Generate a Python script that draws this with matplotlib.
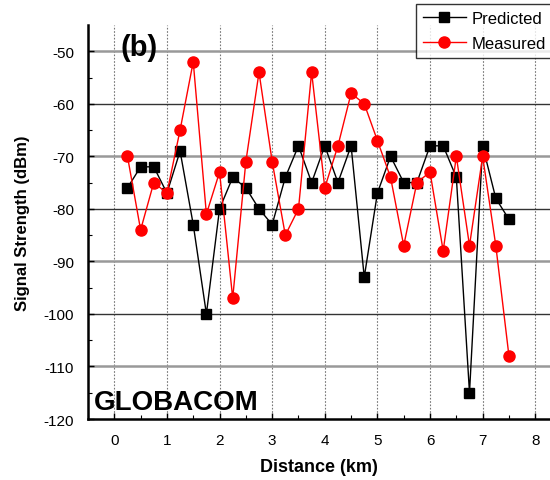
import matplotlib
matplotlib.use("Agg")
import matplotlib.pyplot as plt
import numpy as np

distance = [0.25, 0.5, 0.75, 1.0, 1.25, 1.5, 1.75, 2.0, 2.25, 2.5, 2.75, 3.0, 3.25, 3.5, 3.75,
            4.0, 4.25, 4.5, 4.75, 5.0, 5.25, 5.5, 5.75, 6.0, 6.25, 6.5, 6.75, 7.0, 7.25, 7.5]
predicted = [-76, -72, -72, -77, -69, -83, -100, -80, -74, -76, -80, -83, -74, -68, -75,
             -68, -75, -68, -93, -77, -70, -75, -75, -68, -68, -74, -115, -68, -78, -82]
measured = [-70, -84, -75, -77, -65, -52, -81, -73, -97, -71, -54, -71, -85, -80, -54,
            -76, -68, -58, -60, -67, -74, -87, -75, -73, -88, -70, -87, -70, -87, -108]
x_ticks = [0, 1, 2, 3, 4, 5, 6, 7, 8]
y_ticks = [-50, -60, -70, -80, -90, -100, -110, -120]

plt.rcParams['font.family'] = ['Liberation Sans', 'DejaVu Sans']
plt.rcParams['axes.unicode_minus'] = False

fig = plt.figure(figsize=(5.5, 4.81), dpi=100)
ax = fig.add_axes([0.16, 0.1268, 0.84, 0.8192])

ax.set_xlim(-0.5, 8.28)
ax.set_ylim(-120, -45)

# grid
for v in x_ticks:
    ax.axvline(v, color='#777777', lw=0.8, ls=(0, (1.5, 1.5)), zorder=1)
for i, v in enumerate(y_ticks[:-1]):
    if i % 2 == 0:
        ax.axhline(v, color='#999999', lw=1.8, zorder=1)
    else:
        ax.axhline(v, color='#333333', lw=1.0, zorder=1)

ax.plot(distance, predicted, color='black', lw=1, marker='s', ms=6.5,
        markerfacecolor='black', markeredgecolor='black', label='Predicted', zorder=3)
ax.plot(distance, measured, color='red', lw=1, marker='o', ms=8,
        markerfacecolor='red', markeredgecolor='red', label='Measured', zorder=3)

ax.set_xticks(x_ticks)
ax.set_yticks(y_ticks)
ax.set_xticks(np.arange(-0.5, 8.3, 0.5), minor=True)
ax.set_yticks(np.arange(-120, -45, 5), minor=True)
ax.tick_params(axis='both', which='both', direction='in', labelsize=11)
ax.tick_params(axis='both', which='major', length=4, width=1)
ax.tick_params(axis='both', which='minor', length=3, width=0.8)
ax.tick_params(axis='x', pad=10)
ax.tick_params(axis='y', pad=10)

for s in ['top', 'right']:
    ax.spines[s].set_visible(False)
ax.spines['left'].set_linewidth(1.8)
ax.spines['bottom'].set_linewidth(1.8)

ax.set_xlabel('Distance (km)', fontsize=13, fontweight='bold', labelpad=8)
ax.set_ylabel('Signal Strength (dBm)', fontsize=12, fontweight='bold', labelpad=10)

ax.text(0.07, 0.98, '(b)', transform=ax.transAxes, fontsize=21, fontweight='bold',
        va='top', ha='left')
ax.text(0.012, 0.01, 'GLOBACOM', transform=ax.transAxes, fontsize=20, fontweight='bold',
        va='bottom', ha='left')

leg = fig.legend(loc='upper left', bbox_to_anchor=(416/550, 1 - 5/481), fontsize=12,
                 handlelength=2.6, frameon=True, fancybox=False, edgecolor='black',
                 borderpad=0.4, labelspacing=0.62, handletextpad=0.35, borderaxespad=0)
leg.get_frame().set_linewidth(1.0)

fig.savefig('out.png', dpi=100)
